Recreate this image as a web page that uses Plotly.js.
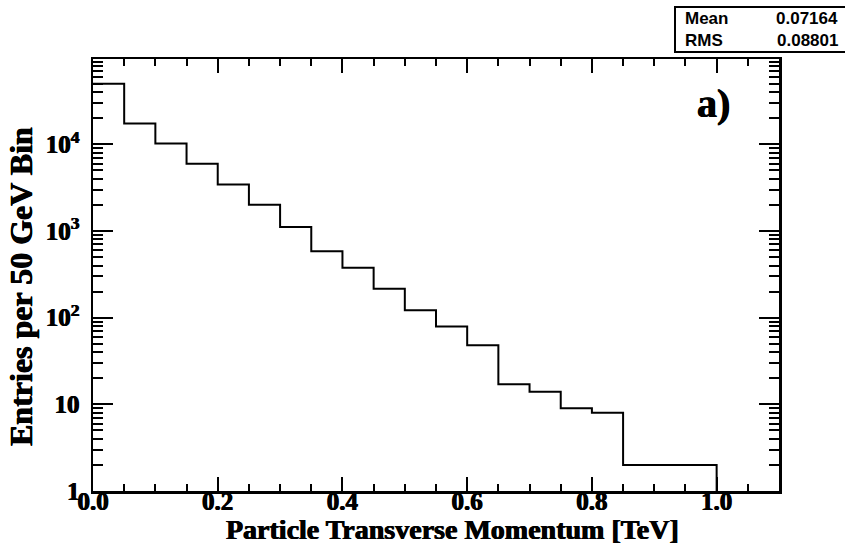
<!DOCTYPE html>
<html>
<head>
<meta charset="utf-8">
<script src="https://cdn.plot.ly/plotly-3.0.1.min.js"></script>
<style>html,body{margin:0;padding:0;background:#fff;}#chart{width:845px;height:548px;}</style>
</head>
<body>
<div id="chart"></div>
<script>
// Bin low edges (TeV) and entries per 50 GeV bin
var binLow = [0.00,0.05,0.10,0.15,0.20,0.25,0.30,0.35,0.40,0.45,0.50,0.55,0.60,0.65,0.70,0.75,0.80,0.85,0.90,0.95];
var binHigh = 1.00;
var entries = [50000,17400,10200,5970,3440,2010,1110,586,378,216,122,79,48,17,14,9,8,2,2,2];
var yTickVals = [1,10,100,1000,10000];
var yTickText = ['1','10','10<sup>2</sup>','10<sup>3</sup>','10<sup>4</sup>'];
var statNames = ['Mean','RMS'];
var statValues = ['0.07164','0.08801'];
var panelLabel = 'a)';
var xTitle = 'Particle Transverse Momentum [TeV]';
var yTitle = 'Entries per 50 GeV Bin';

var yLogRange = [0, 4.985];
var xRange = [0, 1.1];

var xs = binLow.slice(); xs.push(binHigh, binHigh);
var ys = entries.slice(); ys.push(entries[entries.length-1], Math.pow(10, yLogRange[0]) * 0.5);

var L = 93, R = 66, T = 59, B = 57;
var W = 845 - L - R, H = 548 - T - B;
function px(x){ return (x - L) / W; }
function py(y){ return (548 - B - y) / H; }

var serif = 'Liberation Serif, Times New Roman, serif';
var sans = 'Liberation Sans, Arial, sans-serif';
var heavy = '0.5px 0 0 #000, -0.5px 0 0 #000';

var trace = {
  x: xs, y: ys, type: 'scatter', mode: 'lines',
  line: {shape: 'hv', color: '#000', width: 2},
  hoverinfo: 'skip', cliponaxis: true
};

var layout = {
  width: 845, height: 548,
  margin: {l: L, r: R, t: T, b: B},
  paper_bgcolor: '#fff', plot_bgcolor: '#fff',
  showlegend: false,
  xaxis: {
    range: xRange, dtick: 0.2, tick0: 0, tickformat: '.1f',
    ticks: 'inside', ticklen: 14, tickwidth: 2, tickcolor: '#000',
    showline: true, linewidth: 2.5, linecolor: '#000', mirror: 'allticks',
    showgrid: false, zeroline: false,
    minor: {dtick: 0.05, ticks: 'inside', ticklen: 7, tickwidth: 2, tickcolor: '#000', showgrid: false},
    tickfont: {family: serif, size: 25, color: '#000', weight: 700, shadow: heavy},
    ticklabelstandoff: -14
  },
  yaxis: {
    type: 'log', range: yLogRange,
    tickvals: yTickVals, ticktext: yTickText,
    ticks: 'inside', ticklen: 20, tickwidth: 2, tickcolor: '#000',
    showline: true, linewidth: 2.5, linecolor: '#000', mirror: 'allticks',
    showgrid: false, zeroline: false,
    minor: {ticks: 'inside', ticklen: 10, tickwidth: 2, tickcolor: '#000', showgrid: false, dtick: 'D1'},
    tickfont: {family: serif, size: 25, color: '#000', weight: 700, shadow: heavy},
    ticklabelstandoff: 6
  },
  shapes: [
    {type: 'rect', xref: 'paper', yref: 'paper', x0: px(675), x1: px(846), y0: py(52), y1: py(7),
     line: {color: '#000', width: 2}, fillcolor: '#fff'}
  ],
  annotations: [
    {xref: 'paper', yref: 'paper', x: px(453), y: py(529), xanchor: 'center', yanchor: 'middle', showarrow: false,
     text: xTitle, font: {family: serif, size: 28, color: '#000', weight: 700, shadow: heavy}},
    {xref: 'paper', yref: 'paper', x: px(21), y: py(287), xanchor: 'center', yanchor: 'middle', showarrow: false,
     textangle: -90, text: yTitle, font: {family: serif, size: 32, color: '#000', weight: 700, shadow: heavy}},
    {xref: 'paper', yref: 'paper', x: px(683), y: py(18.5), xanchor: 'left', yanchor: 'middle', showarrow: false,
     text: statNames[0], font: {family: sans, size: 17, color: '#000', weight: 700}},
    {xref: 'paper', yref: 'paper', x: px(840), y: py(18.5), xanchor: 'right', yanchor: 'middle', showarrow: false,
     text: statValues[0], font: {family: sans, size: 17, color: '#000', weight: 700}},
    {xref: 'paper', yref: 'paper', x: px(683), y: py(40), xanchor: 'left', yanchor: 'middle', showarrow: false,
     text: statNames[1], font: {family: sans, size: 17, color: '#000', weight: 700}},
    {xref: 'paper', yref: 'paper', x: px(840), y: py(40), xanchor: 'right', yanchor: 'middle', showarrow: false,
     text: statValues[1], font: {family: sans, size: 17, color: '#000', weight: 700}},
    {xref: 'paper', yref: 'paper', x: px(713), y: py(103), xanchor: 'center', yanchor: 'middle', showarrow: false,
     text: panelLabel, font: {family: serif, size: 40, color: '#000', weight: 700, shadow: heavy}}
  ]
};

Plotly.newPlot('chart', [trace], layout, {staticPlot: true, displayModeBar: false});
</script>
</body>
</html>
